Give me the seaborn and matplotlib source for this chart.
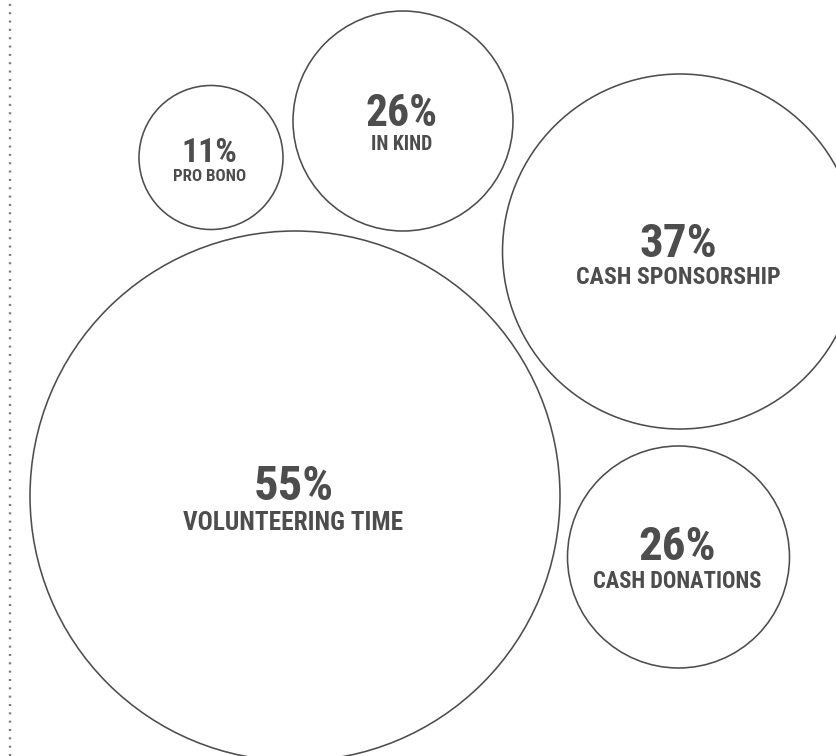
import matplotlib
matplotlib.use("Agg")
import matplotlib.pyplot as plt
from matplotlib import font_manager
from matplotlib.font_manager import FontProperties
from matplotlib.textpath import TextPath
import seaborn as sns
import pandas as pd
import os

# ---- data ----
categories = ["PRO BONO", "IN KIND", "CASH SPONSORSHIP", "VOLUNTEERING TIME", "CASH DONATIONS"]
values = [11, 26, 37, 55, 26]
value_labels = ["11%", "26%", "37%", "55%", "26%"]

# ---- layout (pixel coordinates on an 837x756 canvas) ----
cx = [211, 403, 680, 295, 678.5]
cy = [157.5, 121, 251.5, 496, 557]
radius = [72, 110, 177.5, 265, 111]
pct_cap = [24, 31, 33.5, 34.5, 33.5]  # cap height of the percentage, px
lab_cap = [12, 14, 17, 18, 16]        # cap height of the label, px
pct_dy = [4.5, 5, 5.5, 4, 3]
lab_gap = [19, 24, 27, 30, 28]

W, H, DPI = 837, 756, 100
INK = "#4d4d4d"

sns.set_theme(style="white")

# choose a condensed bold family that is installed as a static bold face
prefs = ["Roboto Condensed", "Archivo Narrow", "PT Sans Narrow", "Liberation Sans Narrow",
         "Fira Sans Condensed", "IBM Plex Sans Condensed", "Barlow Condensed",
         "Encode Sans Condensed", "Asap Condensed", "Saira Condensed", "Sofia Sans Condensed",
         "Open Sans Condensed", "Pathway Gothic One", "Oswald", "DejaVu Sans"]
bold_static = {}
for f in font_manager.fontManager.ttflist:
    if f.weight in (700, "bold") and "[" not in os.path.basename(f.fname):
        bold_static[f.name] = f.fname
fam = next((p for p in prefs if p in bold_static), "DejaVu Sans")
plt.rcParams["font.family"] = [fam, "DejaVu Sans"]

fp = FontProperties(family=fam, weight="bold")
cap_ratio = TextPath((0, 0), "H", size=1, prop=fp).get_extents().height


def pt_for_cap(cap_px):
    return cap_px / cap_ratio * 72 / DPI


fig = plt.figure(figsize=(W / DPI, H / DPI), dpi=DPI)
ax = fig.add_axes([0, 0, 1, 1])
ax.set_xlim(0, W)
ax.set_ylim(H, 0)
ax.axis("off")

df = pd.DataFrame({"category": categories, "value": values, "cx": cx, "cy": cy, "r": radius})
size_map = {r: (2 * r * 72 / DPI) ** 2 for r in radius}
sns.scatterplot(data=df, x="cx", y="cy", size="r", sizes=size_map, ax=ax,
                facecolor="none", edgecolor=INK, linewidth=1.15, legend=False,
                clip_on=False)

# dotted rule at the left
ax.axvline(x=10, color="#7a7a7a", lw=1.7, linestyle=(0, (0.85, 2.68)))

for i in range(len(categories)):
    yb = cy[i] + pct_dy[i]
    ax.text(cx[i] - 1.5, yb, value_labels[i], ha="center", va="baseline",
            fontsize=pt_for_cap(pct_cap[i]), fontweight="bold", color=INK)
    ax.text(cx[i] - 1.5, yb + lab_gap[i], categories[i], ha="center", va="baseline",
            fontsize=pt_for_cap(lab_cap[i]), fontweight="bold", color=INK)

fig.savefig("out.png", dpi=DPI, facecolor="white")
